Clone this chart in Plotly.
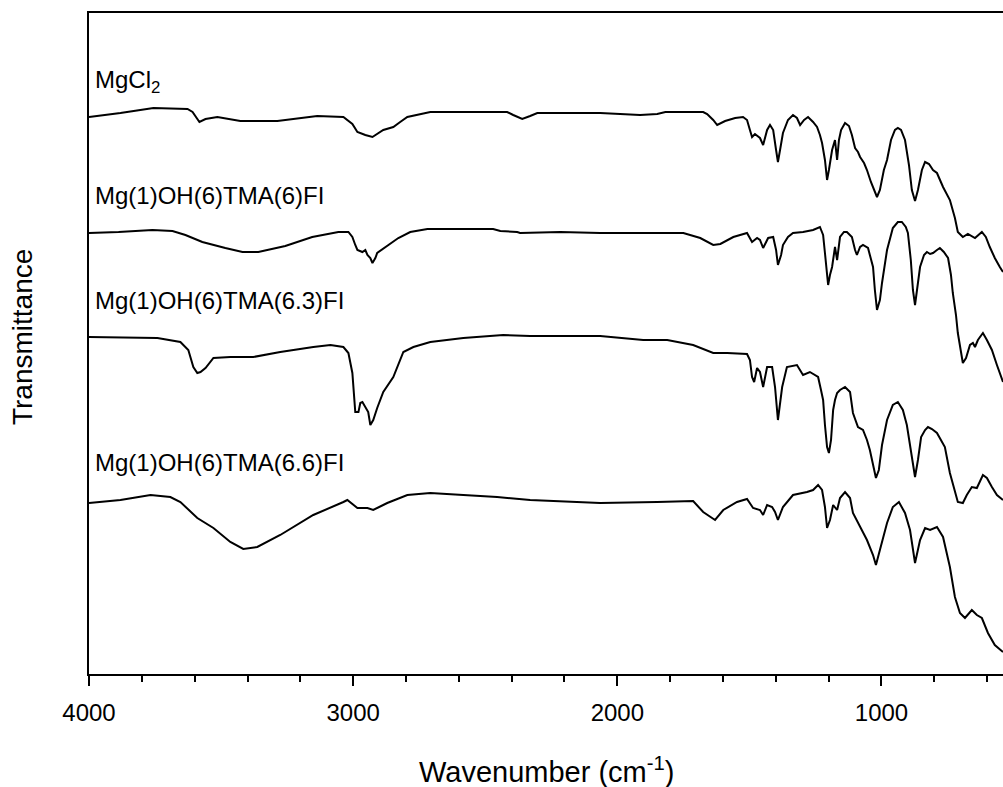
import plotly.graph_objects as go

# FTIR spectra (wavenumber in cm-1, transmittance in arbitrary offset units)
wn_mgcl2 = [4000, 3881, 3756, 3627, 3608, 3582, 3559, 3514, 3427, 3287, 3136, 3037, 3003, 2984,
            2954, 2927, 2886, 2848, 2822, 2795, 2708, 2417, 2394, 2360, 2330, 2303, 2065, 1914,
            1849, 1818, 1675, 1660, 1637, 1622, 1592, 1554, 1524, 1509, 1498, 1490, 1479, 1471,
            1460, 1448, 1433, 1422, 1410, 1399, 1392, 1384, 1373, 1354, 1335, 1320, 1308, 1293,
            1278, 1259, 1244, 1233, 1225, 1214, 1206, 1199, 1187, 1176, 1172, 1168, 1161, 1153,
            1138, 1123, 1112, 1100, 1089, 1081, 1066, 1055, 1040, 1025, 1017, 1006, 991, 979,
            964, 949, 938, 926, 911, 896, 885, 873, 862, 847, 835, 820, 805, 790, 767, 741, 722,
            711, 692, 673, 646, 620, 605, 590, 571, 552, 540]
t_mgcl2 = [531, 535, 540, 539, 536, 526, 529, 531, 527, 527, 532, 531, 524, 516,
           513, 511, 518, 521, 526, 531, 536, 536, 533, 529, 532, 535, 535, 533,
           534, 536, 536, 534, 528, 523, 527, 530, 531, 528, 518, 511, 514, 512,
           510, 503, 518, 523, 518, 498, 486, 498, 515, 528, 533, 530, 523, 528,
           531, 526, 521, 513, 505, 488, 468, 478, 498, 508, 493, 488, 508, 518,
           525, 522, 513, 500, 496, 491, 485, 478, 466, 455, 451, 458, 478, 488,
           508, 518, 520, 518, 508, 483, 458, 447, 458, 478, 486, 484, 478, 475, 461, 448, 430,
           416, 411, 414, 410, 416, 411, 401, 390, 381, 376]

wn_tma60 = [4000, 3888, 3760, 3684, 3635, 3571, 3484, 3419, 3359, 3257, 3155, 3056, 3018, 3003,
            2992, 2984, 2965, 2954, 2946, 2935, 2927, 2916, 2909, 2878, 2829, 2784, 2719, 2470,
            2443, 2379, 2368, 2216, 2065, 1750, 1686, 1637, 1610, 1561, 1509, 1490, 1471, 1460,
            1448, 1429, 1410, 1399, 1392, 1380, 1373, 1354, 1335, 1297, 1259, 1233, 1221, 1214,
            1202, 1195, 1187, 1176, 1172, 1168, 1157, 1142, 1131, 1112, 1100, 1093, 1081, 1070,
            1051, 1040, 1032, 1025, 1017, 1006, 998, 979, 957, 938, 923, 908, 900, 889, 881, 873,
            862, 854, 839, 828, 816, 805, 790, 779, 764, 748, 737, 730, 718, 711, 699, 692, 680,
            665, 654, 646, 635, 616, 601, 582, 563, 540]
t_tma60 = [415, 416, 418, 417, 413, 406, 400, 396, 396, 402, 411, 416, 416, 411,
           403, 398, 396, 398, 393, 390, 385, 390, 395, 401, 410, 416, 419, 419,
           417, 416, 415, 416, 415, 415, 410, 403, 404, 411, 415, 406, 410, 408,
           400, 410, 411, 398, 383, 393, 403, 411, 415, 416, 418, 421, 413, 395,
           363, 373, 381, 401, 392, 388, 411, 416, 416, 411, 398, 393, 401, 403,
           400, 390, 381, 358, 338, 348, 365, 398, 420, 426, 426, 421, 415, 388, 358, 343,
           363, 381, 393, 396, 394, 395, 398, 400, 396, 390, 373, 355, 333, 315, 296, 285, 290,
           303, 305, 301, 308, 315, 308, 298, 283, 266]

wn_tma63 = [4000, 3741, 3654, 3624, 3605, 3590, 3578, 3559, 3529, 3465, 3378, 3276, 3151, 3086,
            3037, 3018, 3003, 2992, 2980, 2973, 2965, 2954, 2943, 2935, 2924, 2909, 2886, 2848,
            2810, 2772, 2708, 2583, 2432, 2330, 2065, 1902, 1811, 1713, 1637, 1584, 1509, 1498,
            1490, 1482, 1471, 1460, 1448, 1433, 1414, 1403, 1392, 1376, 1358, 1320, 1297, 1271,
            1240, 1229, 1221, 1214, 1206, 1199, 1191, 1183, 1176, 1168, 1157, 1138, 1119, 1108,
            1089, 1070, 1055, 1044, 1032, 1021, 1010, 998, 979, 957, 938, 919, 904, 885, 873,
            862, 850, 835, 824, 809, 790, 775, 760, 741, 722, 711, 692, 677, 658, 639, 616, 601,
            582, 563, 540]
t_tma63 = [311, 310, 306, 298, 281, 275, 276, 280, 290, 291, 291, 296, 301, 303,
           301, 295, 275, 236, 236, 245, 246, 241, 236, 223, 228, 240, 256, 271,
           296, 301, 306, 310, 313, 312, 312, 308, 308, 303, 295, 295, 294, 288,
           271, 266, 280, 276, 261, 281, 281, 261, 228, 261, 281, 283, 273, 276,
           271, 258, 248, 223, 201, 195, 208, 238, 248, 255, 258, 261, 256, 235,
           221, 218, 208, 198, 183, 170, 178, 203, 228, 243, 246, 238, 223, 193, 171,
           188, 211, 218, 221, 219, 215, 208, 201, 175, 155, 146, 145, 153, 161, 160, 173, 170,
           161, 153, 148]

wn_tma66 = [4000, 3881, 3767, 3692, 3654, 3590, 3529, 3465, 3416, 3363, 3276, 3151, 3037, 3022,
            2984, 2946, 2924, 2871, 2795, 2708, 2583, 2455, 2330, 2065, 1849, 1713, 1675, 1630,
            1599, 1547, 1509, 1486, 1460, 1448, 1433, 1414, 1403, 1392, 1373, 1335, 1282, 1259,
            1240, 1225, 1214, 1206, 1195, 1183, 1168, 1157, 1138, 1119, 1108, 1081, 1055, 1032,
            1021, 1006, 979, 957, 934, 911, 892, 873, 854, 835, 816, 790, 767, 741, 722, 703,
            684, 658, 639, 620, 597, 571, 540]
t_tma66 = [145, 148, 153, 151, 146, 130, 120, 106, 99, 101, 113, 133, 146, 148,
           140, 140, 138, 145, 153, 155, 153, 151, 148, 145, 146, 147, 136, 128,
           138, 146, 149, 140, 138, 133, 143, 141, 136, 128, 141, 153, 156, 158,
           163, 158, 141, 120, 128, 143, 138, 150, 156, 150, 135, 121, 108, 93,
           83, 98, 125, 141, 146, 135, 118, 85, 108, 120, 118, 121, 111, 81, 51, 35,
           30, 38, 33, 30, 15, 3, -4]

series = [
    ("MgCl<sub>2</sub>", wn_mgcl2, t_mgcl2, 567),
    ("Mg(1)OH(6)TMA(6)FI", wn_tma60, t_tma60, 453),
    ("Mg(1)OH(6)TMA(6.3)FI", wn_tma63, t_tma63, 348),
    ("Mg(1)OH(6)TMA(6.6)FI", wn_tma66, t_tma66, 186),
]

FONT = "Liberation Sans, Arial, sans-serif"

fig = go.Figure()
annotations = []
for name, wn, t, label_y in series:
    fig.add_trace(go.Scatter(x=wn, y=t, mode="lines", name=name,
                             line=dict(color="black", width=2), showlegend=False))
    annotations.append(dict(text=name, x=0.004, xref="paper", y=label_y, yref="y",
                            xanchor="left", yanchor="middle", showarrow=False,
                            font=dict(family=FONT, size=24, color="black")))

# axis titles
annotations.append(dict(text="Wavenumber (cm<sup>-1</sup>)", x=0.5, xref="paper",
                        y=-0.145, yref="paper", xanchor="center", yanchor="middle",
                        showarrow=False, font=dict(family=FONT, size=29, color="black")))
annotations.append(dict(text="Transmittance", x=-0.072, xref="paper", y=0.51, yref="paper",
                        xanchor="center", yanchor="middle", textangle=-90, showarrow=False,
                        font=dict(family=FONT, size=28, color="black")))

fig.update_layout(
    width=1003, height=787,
    margin=dict(l=89, r=0, t=13, b=113),
    paper_bgcolor="white", plot_bgcolor="white",
    annotations=annotations,
    xaxis=dict(range=[4000, 540], tick0=0, dtick=1000, showgrid=False, zeroline=False,
               showline=True, linecolor="black", linewidth=2, mirror=True,
               ticks="outside", ticklen=10, tickwidth=2, tickcolor="black",
               ticklabelstandoff=6,
               minor=dict(dtick=200, tick0=0, ticks="outside", ticklen=6, tickwidth=1.5,
                          tickcolor="black", showgrid=False),
               tickfont=dict(family=FONT, size=24, color="black")),
    yaxis=dict(range=[-26, 635], showgrid=False, zeroline=False, showticklabels=False,
               showline=True, linecolor="black", linewidth=2, mirror=False, ticks=""),
)

fig.write_html("out.html")
